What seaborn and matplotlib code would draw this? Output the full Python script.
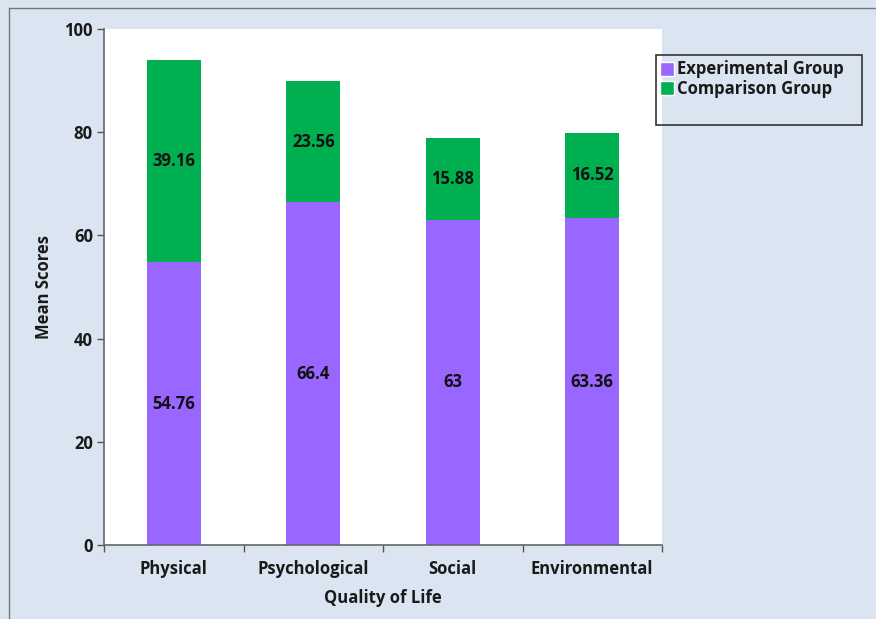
import numpy as np
import pandas as pd
import matplotlib.pyplot as plt
import seaborn as sns
from matplotlib.patches import Patch, Rectangle
from matplotlib.lines import Line2D

# data
domains = ['Physical', 'Psychological', 'Social', 'Environmental']
experimental = [54.76, 66.4, 63, 63.36]
comparison = [39.16, 23.56, 15.88, 16.52]

purple = '#9966ff'
green = '#00b050'
bg = '#dbe5f1'

df = pd.DataFrame({'domain': domains, 'exp': experimental, 'comp': comparison})
df['total'] = df['exp'] + df['comp']

sns.set_style('white')
plt.rcParams['font.family'] = ['Open Sans', 'DejaVu Sans']
plt.rcParams['font.weight'] = 'bold'

fig = plt.figure(figsize=(8.76, 6.19), dpi=100, facecolor=bg)
ax = fig.add_axes([104 / 876, 1 - 545 / 619, 558 / 876, 516 / 619])
ax.set_facecolor('white')

# stacked bars: total in green, experimental on top of it in purple
sns.barplot(data=df, x='domain', y='total', color=green, saturation=1,
            width=0.39, linewidth=0, ax=ax)
sns.barplot(data=df, x='domain', y='exp', color=purple, saturation=1,
            width=0.39, linewidth=0, ax=ax)

# value labels in the middle of each segment
for i, (e, c) in enumerate(zip(experimental, comparison)):
    ax.text(i, e / 2, f'{e:g}', ha='center', va='center', fontsize=12,
            fontweight='bold', color='#111111')
    ax.text(i, e + c / 2, f'{c:g}', ha='center', va='center', fontsize=12,
            fontweight='bold', color='#111111')

ax.set_xlim(-0.5, 3.5)
ax.set_ylim(0, 100)
ax.set_yticks(range(0, 101, 20))
ax.set_xticks(np.arange(-0.5, 4, 1), minor=True)
ax.tick_params(axis='x', which='major', length=0, pad=11, labelsize=12)
ax.tick_params(axis='x', which='minor', length=5, width=1, color='#555555',
               direction='out', bottom=True)
ax.tick_params(axis='y', length=5, width=1, color='#555555', direction='out',
               left=True, labelsize=12, pad=3)
for lab in ax.get_xticklabels() + ax.get_yticklabels():
    lab.set_fontweight('bold')
    lab.set_color('#1a1a1a')

for s in ['top', 'right']:
    ax.spines[s].set_visible(False)
for s in ['left', 'bottom']:
    ax.spines[s].set_color('#666666')
    ax.spines[s].set_linewidth(1.2)

ax.set_xlabel('Quality of Life', fontsize=12, fontweight='bold',
              color='#1a1a1a', labelpad=8)
ax.set_ylabel('Mean Scores', fontsize=12, fontweight='bold',
              color='#1a1a1a', labelpad=8)

handles = [Patch(facecolor=purple, label='Experimental Group'),
           Patch(facecolor=green, label='Comparison Group')]
leg = fig.legend(handles=handles, loc='upper left',
                 bbox_to_anchor=(657 / 876, 1 - 57 / 619),
                 frameon=False, fontsize=12,
                 handlelength=0.8, handleheight=0.9, handletextpad=0.2,
                 borderpad=0.2, labelspacing=0.1, borderaxespad=0)
for t in leg.get_texts():
    t.set_fontweight('bold')
    t.set_color('#1a1a1a')
# legend frame, taller than its entries as in the original
fig.add_artist(Rectangle((656 / 876, 1 - 125 / 619), 206 / 876, 70 / 619,
                         transform=fig.transFigure, fill=False,
                         edgecolor='#333333', lw=1.2))

# thin frame on left and top edge of the picture
fig.add_artist(Line2D([9 / 876, 9 / 876], [0, 1 - 8 / 619],
                      transform=fig.transFigure, color='#777777', lw=1))
fig.add_artist(Line2D([9 / 876, 1], [1 - 8 / 619, 1 - 8 / 619],
                      transform=fig.transFigure, color='#777777', lw=1))

fig.savefig('out.png', dpi=100, facecolor=bg)
